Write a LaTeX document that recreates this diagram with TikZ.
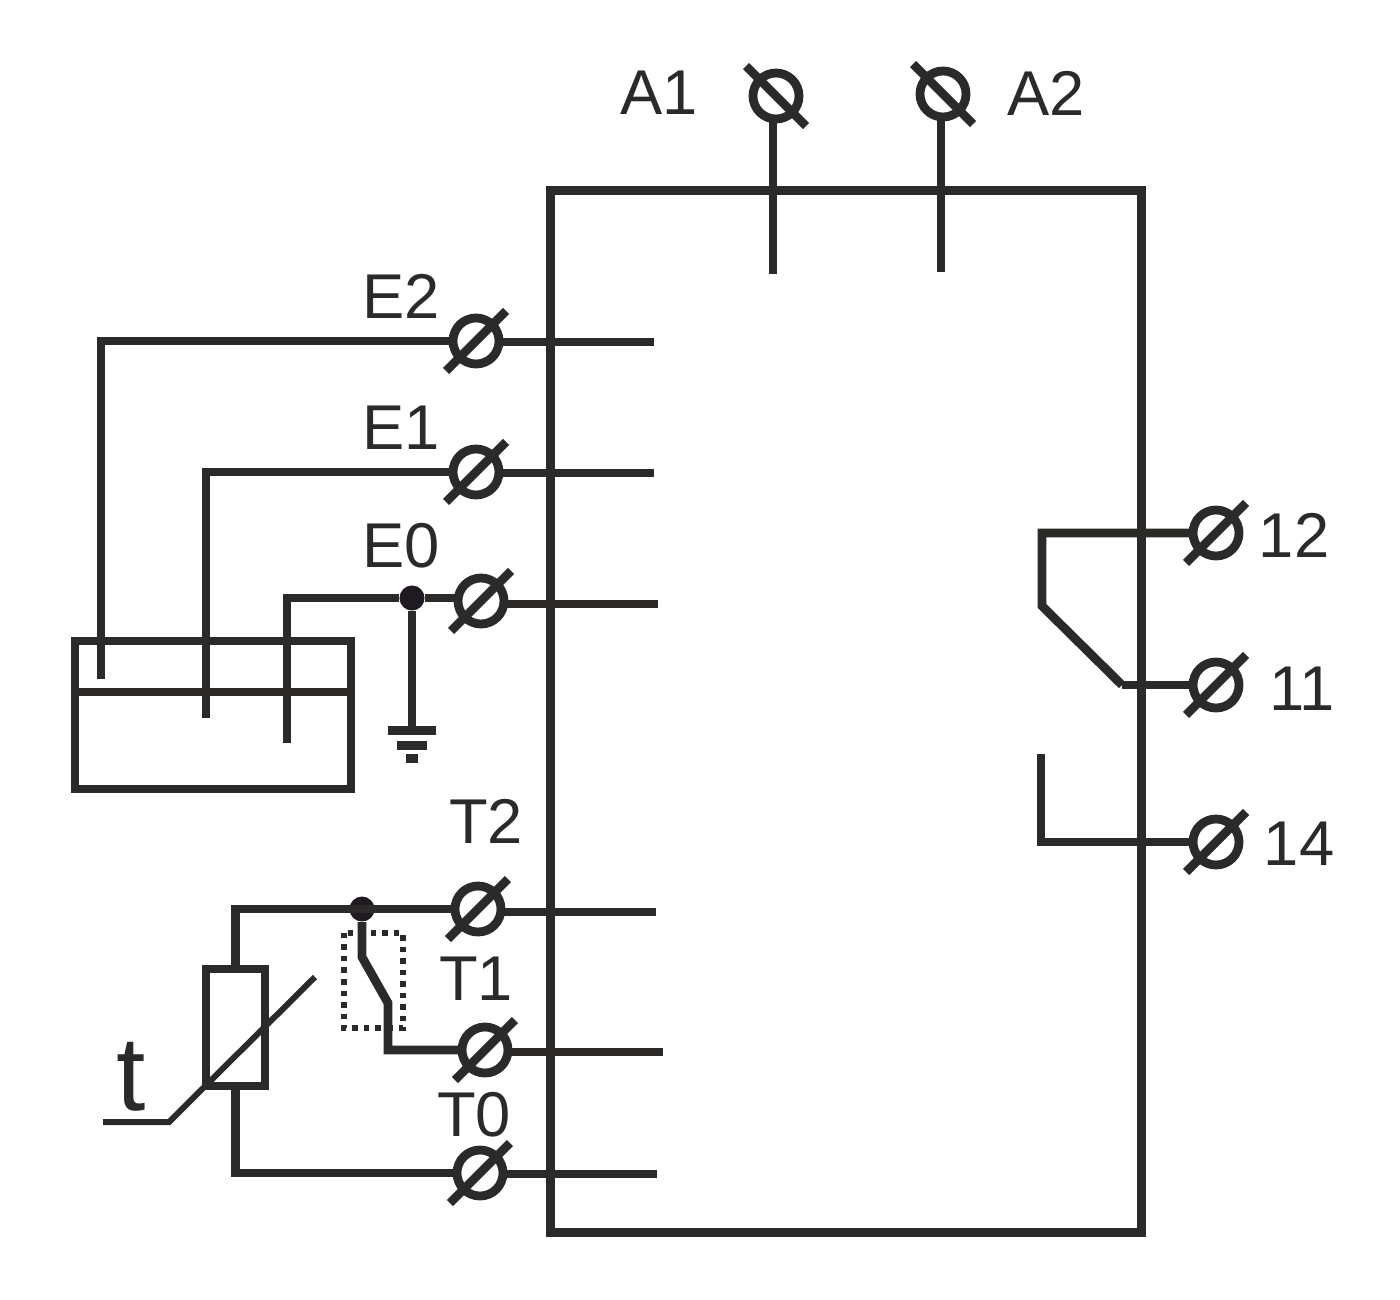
\documentclass[tikz,border=0pt]{standalone}
\usepackage{fontspec}
\setmainfont{Liberation Sans}
\definecolor{ink}{HTML}{2B2A29}
\definecolor{dotink}{HTML}{1F1A21}
\begin{document}
\begin{tikzpicture}[x=0.01cm,y=-0.01cm]
    % Define the styles for the parts of the circuit
    \tikzstyle{wire}=[draw=ink,line width=0.088cm]
    \tikzstyle{thin wire}=[draw=ink,line width=0.06cm]
    \tikzstyle{terminal}=[circle,draw=ink,line width=0.088cm,fill=white,inner sep=0pt,outer sep=0pt,minimum size=0.46cm]
    \tikzstyle{frame}=[rectangle,draw=ink,line width=0.088cm,inner sep=0pt,outer sep=0pt]
    \tikzstyle{joint}=[circle,fill=dotink,inner sep=0pt,minimum size=0.25cm]
    \tikzstyle{bar}=[rectangle,fill=ink,inner sep=0pt,outer sep=0pt,minimum height=0.09cm]
    \tikzstyle{tag}=[text=ink,inner sep=0pt,font=\fontsize{18}{18}\selectfont]
    \useasboundingbox (0,0) rectangle (1400,1300);

    % Draw the main box and the tank
    \node[frame,minimum width=5.9cm,minimum height=10.41cm] (body) at (846,711.5) {};
    \node[frame,minimum width=2.76cm,minimum height=1.48cm] (tank) at (213,715) {};
    \node[frame,minimum width=0.59cm,minimum height=1.17cm] (resistor) at (235.5,1027.5) {};
    \node[frame,draw=none,minimum width=0.59cm,minimum height=0.95cm] (guard) at (373.5,980.5) {};
    \draw[draw=ink,line width=0.058cm,dash pattern=on 0.055cm off 0.06cm] (guard.north west) rectangle (guard.south east);

    % Draw the terminals
    \node[terminal] (term_a1) at (776,96) {};
    \node[terminal] (term_a2) at (943,94) {};
    \node[terminal] (term_e2) at (476,341) {};
    \node[terminal] (term_e1) at (476,472) {};
    \node[terminal] (term_e0) at (481,601) {};
    \node[terminal] (term_t2) at (478,909) {};
    \node[terminal] (term_t1) at (485,1050) {};
    \node[terminal] (term_t0) at (480,1173) {};
    \node[terminal] (term_12) at (1216,533) {};
    \node[terminal] (term_11) at (1216,685) {};
    \node[terminal] (term_14) at (1216,842) {};

    % Draw the joints and the earth bars
    \node[joint] (joint_e0) at (412,598) {};
    \node[joint] (joint_t2) at (362,909) {};
    \node[bar,minimum width=0.48cm] (earth_a) at (412,730) {};
    \node[bar,minimum width=0.29cm] (earth_b) at (412,745) {};
    \node[bar,minimum width=0.12cm] (earth_c) at (412,758) {};

    % Free ends of the wires
    \coordinate (probe_e2) at (101,679);
    \coordinate (probe_e1) at (206,718);
    \coordinate (probe_e0) at (287,743);
    \coordinate (level_l) at (75,692);
    \coordinate (level_r) at (351,692);
    \coordinate (stub_a1) at (773,274);
    \coordinate (stub_a2) at (941,272);
    \coordinate (stub_e2) at (654,342);
    \coordinate (stub_e1) at (654,473);
    \coordinate (stub_e0) at (658,604);
    \coordinate (stub_t2) at (656,912);
    \coordinate (stub_t1) at (663,1052);
    \coordinate (stub_t0) at (657,1174);
    \coordinate (blade_a) at (362,957);
    \coordinate (blade_b) at (388,1003);
    \coordinate (relay_nc) at (1042,606);
    \coordinate (relay_hinge) at (1122,685);
    \coordinate (relay_no) at (1041,754);
    \coordinate (heat_a) at (103,1122);
    \coordinate (heat_b) at (169,1122);
    \coordinate (heat_c) at (315,977);

    % Draw the wires
    \draw[wire] (probe_e2) |- (term_e2);
    \draw[wire] (probe_e1) |- (term_e1);
    \draw[wire] (probe_e0) |- (joint_e0);
    \draw[wire] (level_l) -- (level_r);
    \draw[wire] (joint_e0) -- (joint_e0 -| term_e0.west);
    \draw[wire] (joint_e0) -- (earth_a);
    \draw[wire] (stub_a1 |- term_a1.south) -- (stub_a1);
    \draw[wire] (stub_a2 |- term_a2.south) -- (stub_a2);
    \draw[wire] (stub_e2 -| term_e2.east) -- (stub_e2);
    \draw[wire] (stub_e1 -| term_e1.east) -- (stub_e1);
    \draw[wire] (stub_e0 -| term_e0.east) -- (stub_e0);
    \draw[wire] (stub_t2 -| term_t2.east) -- (stub_t2);
    \draw[wire] (stub_t1 -| term_t1.east) -- (stub_t1);
    \draw[wire] (stub_t0 -| term_t0.east) -- (stub_t0);
    \draw[wire] (resistor.north) |- (term_t2);
    \draw[wire] (resistor.south) |- (term_t0);
    \draw[wire] (joint_t2) -- (blade_a) -- (blade_b) |- (term_t1);
    \draw[wire] (term_12) -| (relay_nc) -- (relay_hinge);
    \draw[wire] (relay_hinge) -- (term_11);
    \draw[wire] (relay_no) |- (term_14);
    \draw[thin wire] (heat_a) -- (heat_b) -- (heat_c);

    % Draw the slashes across the terminals
    \foreach \n in {term_e2,term_e1,term_e0,term_t2,term_t1,term_t0,term_12,term_11,term_14}
        \draw[wire] ([shift={(-30,30)}]\n.center) -- ([shift={(30,-30)}]\n.center);
    \foreach \n in {term_a1,term_a2}
        \draw[wire] ([shift={(-30,-30)}]\n.center) -- ([shift={(30,30)}]\n.center);

    % Draw the labels
    \node[tag] (tag_a1) at (659,93) {A1};
    \node[tag] (tag_a2) at (1046,93) {A2};
    \node[tag] (tag_e2) at (401,296) {E2};
    \node[tag] (tag_e1) at (401,428) {E1};
    \node[tag] (tag_e0) at (401,546) {E0};
    \node[tag] (tag_t2) at (486,821) {T2};
    \node[tag] (tag_t1) at (476,979) {T1};
    \node[tag] (tag_t0) at (474,1115) {T0};
    \node[tag] (tag_12) at (1294,535) {12};
    \node[tag] (tag_11) at (1302,689) {11};
    \node[tag] (tag_14) at (1299,844) {14};
    \node[tag,font=\fontsize{30}{30}\selectfont] (tag_t) at (131,1077) {t};
\end{tikzpicture}
\end{document}
